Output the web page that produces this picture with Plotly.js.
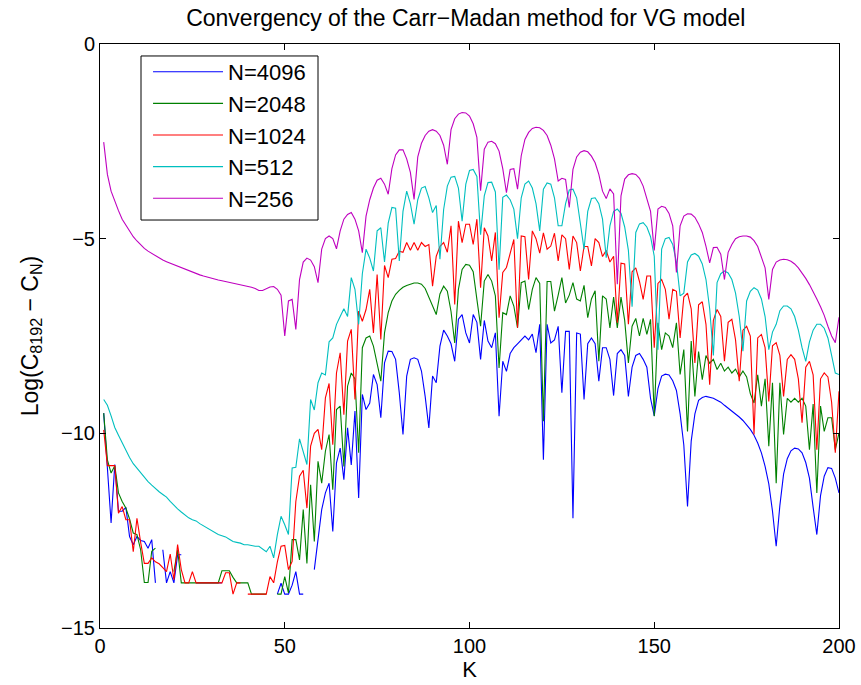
<!DOCTYPE html>
<html>
<head>
<meta charset="utf-8">
<script src="https://cdn.plot.ly/plotly-3.0.1.min.js"></script>
<style>html,body{margin:0;padding:0;background:#fff;}#chart{width:861px;height:685px;}</style>
</head>
<body>
<div id="chart"></div>
<script>
// K = 1..200 (strike index)
const K = [];
for (let k = 1; k <= 200; k++) K.push(k);

const seriesNames = ["N=4096", "N=2048", "N=1024", "N=512", "N=256"];

const n4096 = [
-9.48,-10.76,-12.3,-10.8,-12.0,-12.0,-11.9,-12.65,-12.86,-12.65,
-12.75,-12.78,-12.95,-12.73,-13.84,null,-12.99,-13.84,-13.55,-13.84,
-13.12,-13.12,null,null,null,-13.84,-13.84,-13.84,-13.84,-13.84,
-13.84,-13.84,-13.84,null,null,null,null,null,null,null,
null,null,null,null,null,null,null,-14.13,-13.85,-14.13,
-14.13,-13.9,-13.55,-14.13,-14.13,null,null,-13.5,-12.73,-11.96,
-11.53,-11.28,-12.52,-10.76,-10.38,-11.19,-9.86,-10.81,-9.43,-11.66,
-9.0,-9.39,-9.22,-8.49,-8.75,-9.6,-8.19,-7.89,-7.9,-8.1,
-8.96,-10.03,-8.53,-8.1,-8.06,-8.1,-8.4,-9.05,-9.86,-8.53,
-8.7,-7.76,-7.35,-7.5,-7.7,-8.15,-7.07,-6.95,-7.42,-7.68,
-6.95,-7.15,-8.1,-7.1,-7.63,-7.8,-7.42,-9.56,-8.15,-8.41,
-7.95,-7.8,-7.7,-7.6,-7.5,-7.6,-7.45,-7.93,-7.2,-10.68,
-7.2,-7.68,-7.6,-7.25,-8.96,-7.38,-7.38,-12.18,-7.42,-7.45,
-9.13,-7.7,-7.55,-7.7,-8.66,-7.8,-7.8,-8.1,-9.03,-7.95,
-7.85,-8.0,-9.05,-8.3,-8.0,-7.95,-8.1,-8.3,-9.1,-9.55,
-8.85,-8.53,-8.48,-8.5,-8.65,-8.9,-9.5,-10.3,-11.88,-10.2,
-9.5,-9.15,-9.08,-9.05,-9.07,-9.1,-9.15,-9.2,-9.28,-9.35,
-9.42,-9.5,-9.58,-9.67,-9.78,-9.9,-10.05,-10.25,-10.5,-10.85,
-11.3,-12.0,-12.9,-11.85,-11.05,-10.65,-10.45,-10.38,-10.4,-10.5,
-10.75,-11.15,-11.9,-12.6,-11.6,-11.1,-10.88,-10.9,-11.15,-11.53
];

const n2048 = [
-9.48,-10.68,-11.02,-10.83,-11.53,-11.75,-11.92,-12.2,-12.56,-12.6,
-12.99,-13.83,-13.83,-13.03,-12.95,null,null,null,null,-13.55,
-12.99,-13.84,-13.84,-13.84,-13.84,-13.84,-13.84,-13.84,-13.84,-13.84,
-13.84,-13.84,-13.53,-13.53,-13.53,-13.7,-13.84,-13.84,-13.84,-13.84,
-14.13,-14.13,-14.13,-14.13,-14.13,null,null,-14.13,-14.13,-13.68,
-14.1,-12.73,-12.73,-13.25,-11.96,-13.34,-11.32,-12.78,-10.72,-11.28,
-10.46,-10.03,-11.45,-9.39,-9.3,-10.85,-8.79,-8.45,-8.6,-10.5,
-7.8,-7.55,-7.5,-7.76,-8.19,-8.66,-7.42,-6.9,-6.6,-6.43,
-6.33,-6.25,-6.2,-6.16,-6.14,-6.14,-6.17,-6.28,-6.5,-6.75,
-6.95,-6.42,-6.22,-6.35,-6.87,-7.68,-6.3,-5.79,-5.66,-5.68,
-5.85,-6.56,-7.25,-6.09,-5.92,-6.09,-6.47,-8.32,-6.9,-6.95,
-6.47,-6.73,-7.29,-6.13,-6.09,-6.82,-6.3,-6.0,-6.15,-9.69,
-6.1,-6.1,-6.86,-6.45,-6.0,-6.65,-6.45,-6.13,-6.55,-6.6,
-6.2,-7.03,-6.55,-6.34,-8.15,-6.47,-6.55,-7.29,-6.5,-7.29,
-6.5,-7.1,-8.19,-7.25,-7.05,-7.5,-7.05,-7.46,-7.07,-9.56,
-7.16,-7.85,-7.42,-7.5,-7.8,-7.16,-8.49,-7.85,-9.95,-7.63,
-9.05,-7.9,-8.62,-8.0,-8.2,-8.1,-8.36,-8.2,-8.4,-8.3,
-8.45,-8.35,-8.55,-8.4,-8.55,-8.98,-9.22,-8.5,-9.3,-8.6,
-10.33,-8.7,-11.28,-8.7,-10.03,-9.1,-9.2,-9.1,-9.2,-9.1,
-9.3,-10.42,-9.25,-11.53,-9.3,-9.95,-9.6,-9.6,-10.42,-9.99
];

const n1024 = [
-9.91,-10.83,-10.83,-10.83,-12.05,-11.88,-12.22,-12.22,-13.04,-12.18,
-12.8,-13.34,-13.34,-13.2,-13.3,-13.35,-13.45,-13.55,-13.1,-13.76,
-12.86,-13.5,-13.84,-13.84,-13.55,-13.84,-13.84,-13.84,-13.84,-13.84,
-13.84,-13.84,-13.84,-13.58,-13.58,-14.13,-13.84,-13.84,null,-14.13,
-14.13,-14.13,-14.13,-14.13,-14.13,-13.68,-13.84,-13.3,-12.9,-12.88,
-13.5,-13.29,-11.75,-11.1,-10.95,-11.92,-10.33,-10.0,-9.9,-10.42,
-9.09,-8.72,-10.29,-8.45,-7.93,-9.52,-7.63,-7.33,-9.13,-6.86,
-7.12,-6.82,-6.3,-7.42,-5.92,-7.59,-5.69,-6.0,-5.53,-5.51,
-5.32,-5.35,-5.1,-5.3,-5.1,-5.3,-5.1,-5.2,-5.15,-6.22,
-5.45,-5.2,-5.1,-5.35,-4.67,-6.69,-4.55,-5.1,-4.63,-4.63,
-5.15,-4.5,-6.26,-4.72,-4.93,-5.57,-4.84,-7.03,-5.87,-5.74,
-5.4,-5.02,-7.29,-4.93,-4.95,-6.05,-4.8,-5.0,-5.37,-4.85,
-5.27,-5.19,-4.86,-5.57,-4.9,-5.0,-5.79,-4.93,-5.1,-5.83,
-5.2,-5.2,-5.7,-5.0,-5.1,-5.46,-5.3,-5.6,-5.45,-7.16,
-5.63,-5.65,-7.2,-5.85,-5.75,-6.1,-6.56,-5.96,-5.96,-7.8,
-6.15,-6.05,-6.3,-7.07,-6.3,-6.35,-7.55,-6.5,-6.4,-6.8,
-8.19,-6.7,-6.62,-7.2,-8.75,-7.1,-6.82,-7.0,-8.15,-7.15,
-7.07,-7.6,-8.66,-7.35,-7.25,-7.5,-10.03,-7.55,-7.46,-7.8,
-9.18,-7.75,-7.67,-8.0,-9.05,-8.1,-7.98,-8.1,-8.6,-9.73,
-8.3,-8.15,-8.5,-10.42,-8.6,-8.45,-8.55,-9.2,-10.5,-8.92
];

const n512 = [
-9.13,-9.28,-9.55,-9.85,-10.05,-10.25,-10.45,-10.62,-10.78,-10.9,
-11.02,-11.13,-11.24,-11.33,-11.42,-11.5,-11.57,-11.64,-11.75,-11.85,
-11.94,-12.02,-12.1,-12.17,-12.22,-12.25,-12.32,-12.38,-12.42,-12.48,
-12.55,-12.6,-12.63,-12.66,-12.72,-12.78,-12.8,-12.82,-12.86,-12.86,
-12.88,-12.9,-12.9,-12.97,-13.04,-12.9,-13.2,-12.6,-12.13,-12.35,
-12.6,-10.89,-10.87,-10.14,-10.5,-10.8,-9.13,-9.4,-8.7,-8.45,
-8.5,-7.65,-7.55,-7.2,-7.0,-6.8,-7.0,-6.0,-6.3,-7.2,
-5.9,-5.27,-5.5,-5.83,-4.8,-4.72,-5.6,-4.6,-4.2,-4.22,
-5.57,-4.3,-3.78,-4.1,-4.63,-4.0,-3.7,-3.66,-3.95,-4.33,
-4.15,-5.53,-4.25,-3.65,-3.42,-3.4,-3.7,-4.55,-3.6,-3.25,
-3.22,-3.4,-4.9,-3.9,-3.56,-3.55,-3.8,-5.8,-3.94,-3.88,
-4.0,-4.24,-5.0,-3.95,-3.6,-3.52,-3.7,-4.1,-4.8,-3.73,
-3.57,-3.6,-3.95,-4.67,-4.67,-4.1,-3.75,-3.73,-3.95,-4.6,
-5.27,-4.3,-3.97,-3.95,-4.1,-4.5,-5.49,-4.67,-4.3,-4.24,
-4.35,-4.7,-5.3,-6.75,-4.84,-4.62,-4.59,-4.7,-4.95,-5.45,
-7.85,-5.27,-5.0,-4.97,-5.15,-5.6,-6.47,-6.4,-5.6,-5.42,
-5.38,-5.45,-5.65,-6.05,-6.8,-8.0,-6.13,-5.9,-5.83,-5.88,
-6.05,-6.4,-7.0,-7.89,-6.6,-6.35,-6.26,-6.32,-6.55,-7.0,
-7.85,-7.4,-7.2,-6.85,-6.73,-6.73,-6.8,-7.0,-7.35,-7.8,
-8.15,-7.65,-7.35,-7.2,-7.2,-7.3,-7.55,-8.0,-8.45,-8.49
];

const n256 = [
-2.52,-3.35,-3.78,-4.05,-4.28,-4.5,-4.66,-4.82,-4.95,-5.06,
-5.16,-5.25,-5.32,-5.38,-5.44,-5.5,-5.55,-5.59,-5.63,-5.67,
-5.71,-5.74,-5.78,-5.81,-5.85,-5.89,-5.93,-5.96,-5.99,-6.02,
-6.04,-6.06,-6.08,-6.1,-6.12,-6.14,-6.16,-6.18,-6.2,-6.22,
-6.25,-6.28,-6.33,-6.33,-6.28,-6.24,-6.23,-6.3,-6.45,-7.5,
-6.6,-6.56,-7.33,-6.05,-5.6,-5.5,-5.55,-5.72,-6.13,-5.27,
-5.0,-4.93,-5.0,-5.26,-4.8,-4.5,-4.38,-4.33,-4.5,-4.8,
-5.36,-4.42,-4.0,-3.7,-3.5,-3.45,-3.6,-3.86,-3.2,-2.85,
-2.72,-2.72,-2.95,-3.3,-3.99,-2.9,-2.55,-2.35,-2.24,-2.2,
-2.24,-2.35,-2.6,-3.09,-2.2,-1.92,-1.8,-1.76,-1.77,-1.85,
-2.05,-2.4,-3.77,-2.7,-2.52,-2.5,-2.56,-2.75,-3.2,-3.82,
-3.22,-3.2,-3.73,-2.87,-2.45,-2.27,-2.17,-2.14,-2.15,-2.22,
-2.35,-2.6,-2.95,-3.52,-3.45,-3.48,-4.2,-3.22,-2.9,-2.78,
-2.74,-2.77,-2.88,-3.05,-3.35,-3.78,-3.97,-3.72,-3.85,-6.17,
-3.9,-3.47,-3.36,-3.33,-3.35,-3.45,-3.65,-3.95,-4.3,-5.3,
-4.24,-4.17,-4.2,-4.35,-4.67,-5.87,-4.67,-4.42,-4.36,-4.37,
-4.45,-4.62,-4.84,-5.2,-5.62,-5.23,-5.22,-5.4,-6.05,-5.35,
-5.15,-5.0,-4.95,-4.93,-4.93,-4.96,-5.05,-5.2,-5.45,-5.75,
-6.56,-5.79,-5.6,-5.55,-5.53,-5.54,-5.58,-5.65,-5.75,-5.88,
-6.02,-6.18,-6.35,-6.55,-6.75,-6.97,-7.25,-7.5,-7.67,-7.02
];

const xTicks = [0, 50, 100, 150, 200];
const yTicks = [-15, -10, -5, 0];
const colors = ["#0000ff", "#008000", "#ff0000", "#00bfbf", "#bf00bf"];
const allSeries = [n4096, n2048, n1024, n512, n256];

const FONT = "Liberation Sans, Arial, Helvetica, sans-serif";

const traces = allSeries.map((ys, i) => ({
  x: K, y: ys, type: "scatter", mode: "lines",
  name: seriesNames[i],
  legendgroup: "g" + i,
  connectgaps: false,
  line: {color: colors[i], width: 1.1},
  hoverinfo: "x+y+name"
}));

const layout = {
  width: 861, height: 685,
  margin: {l: 100, r: 22, t: 44, b: 57, pad: 0},
  paper_bgcolor: "#ffffff", plot_bgcolor: "#ffffff",
  font: {family: FONT, size: 20, color: "#000"},
  title: {text: "Convergency of the Carr\u2212Madan method for VG model",
          font: {family: FONT, size: 23, color: "#000"},
          x: 0.541, xanchor: "center", y: 0.974, yanchor: "middle"},
  xaxis: {
    range: [0, 200], tickvals: xTicks, ticktext: xTicks.map(String),
    ticks: "inside", ticklen: 6, tickcolor: "#000", tickwidth: 1,
    showline: true, linecolor: "#000", linewidth: 1, mirror: "allticks",
    showgrid: false, zeroline: false,
    tickfont: {family: FONT, size: 20},
    title: {text: "K", font: {family: FONT, size: 22}, standoff: 1}
  },
  yaxis: {
    range: [-15, 0], tickvals: yTicks,
    ticks: "inside", ticklen: 6, tickcolor: "#000", tickwidth: 1,
    showline: true, linecolor: "#000", linewidth: 1, mirror: "allticks",
    showgrid: false, zeroline: false,
    tickfont: {family: FONT, size: 20},
    title: {text: "Log(C<sub>8192</sub> \u2212 C<sub>N</sub>)", font: {family: FONT, size: 23}, standoff: 16}
  },
  shapes: [{
    type: "rect", xref: "paper", yref: "paper",
    x0: 0.0555, x1: 0.2950, y0: 0.6986, y1: 0.9795,
    line: {color: "#000", width: 1}, fillcolor: "#ffffff", layer: "above"
  }],
  showlegend: true,
  legend: {
    x: 0.065, y: 0.988, xanchor: "left", yanchor: "top",
    bgcolor: "rgba(0,0,0,0)", borderwidth: 0,
    font: {family: FONT, size: 22, color: "#000"},
    itemwidth: 70, tracegroupgap: 6, traceorder: "normal"
  }
};

Plotly.newPlot("chart", traces, layout, {displayModeBar: false, staticPlot: true});
</script>
</body>
</html>
